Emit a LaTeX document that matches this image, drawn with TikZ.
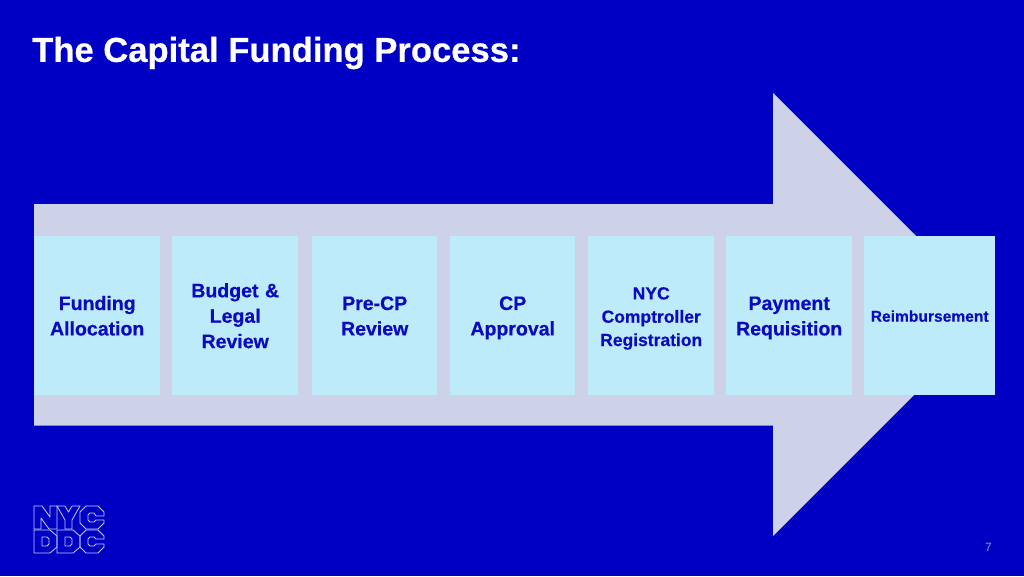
\documentclass[tikz,border=0pt]{standalone}
\usepackage{fontspec}
\setmainfont[BoldFeatures={FakeBold=0.5}]{Liberation Sans}
\definecolor{bgblue}{HTML}{0000C4}
\definecolor{arrowgrey}{HTML}{CDD2E8}
\definecolor{boxblue}{HTML}{BEEBFA}
\definecolor{inkblue}{HTML}{0A0ABE}
\definecolor{logoline}{HTML}{C4CCF4}
\definecolor{pagegrey}{HTML}{8C96DC}
\newcommand{\stepstrut}[2]{\rule[-#2pt]{0pt}{\dimexpr#1pt+#2pt\relax}}
\tikzset{
  stepbox/.style={fill=boxblue,draw=none,inner sep=0pt,anchor=north west,
    minimum height=159pt,text width=#1,minimum width=#1,align=center,
    text=inkblue,font=\fontsize{19.5}{25.4}\selectfont\bfseries,
    execute at begin node=\stepstrut{18}{4},execute at end node=\stepstrut{18}{4}},
  logostroke/.style={draw=logoline,line width=0.8pt,line join=round},
}
\begin{document}
\begin{tikzpicture}[x=1pt,y=-1pt]
\useasboundingbox (0,0) rectangle (1024,576);
\fill[bgblue] (0,0) rectangle (1024,576);
\node[anchor=west,inner sep=0pt,text=white,font=\fontsize{34.6}{38}\selectfont\bfseries] (title) at (32,53) {The Capital Funding Process:};
\fill[arrowgrey] (34,204) -- (773,204) -- (773,93) -- (994.5,314.5) -- (773,536) -- (773,425.5) -- (34,425.5) -- cycle;
\node[stepbox=126pt] (s1) at (34,236) {Funding\\Allocation};
\node[stepbox=126pt] (s2) at (172,236) {Budget \&\\Legal\\Review};
\node[stepbox=125pt] (s3) at (312,236) {Pre-CP\\Review};
\node[stepbox=125pt] (s4) at (450,236) {CP\\Approval};
\node[stepbox=126pt,font=\fontsize{17.5}{23.3}\selectfont\bfseries] (s5) at (588,236) {NYC\\Comptroller\\Registration};
\node[stepbox=126pt] (s6) at (726,236) {Payment\\Requisition};
\node[stepbox=131pt,font=\fontsize{15.6}{18}\selectfont\bfseries,execute at begin node=\stepstrut{11}{6},execute at end node=\stepstrut{11}{6}] (s7) at (864,236) {Reimbursement};
% logo: NYC
\draw[logostroke] (34,506) -- (42,506) -- (50,517) -- (50,506) -- (57,506) -- (57,529) -- (49,529) -- (41,518) -- (41,529) -- (34,529) -- cycle;
\draw[logostroke] (57,506) -- (65,506) -- (68.5,512) -- (72,506) -- (80,506) -- (72,520) -- (72,529) -- (65,529) -- (65,520) -- cycle;
\draw[logostroke] (86,506) -- (98,506) -- (104,512) -- (104,516) -- (96,516) -- (94,513) -- (90,513) -- (88,515) -- (88,520) -- (90,522) -- (94,522) -- (96,520) -- (104,520) -- (104,523) -- (98,529) -- (86,529) -- (80,523) -- (80,512) -- cycle;
% logo: DDC
\draw[logostroke] (34,530) -- (50,530) -- (57,536) -- (57,547) -- (50,553) -- (34,553) -- cycle;
\draw[logostroke] (42,537) -- (47,537) -- (49,539) -- (49,544) -- (47,546) -- (42,546) -- cycle;
\draw[logostroke] (57,530) -- (73,530) -- (80,536) -- (80,547) -- (73,553) -- (57,553) -- cycle;
\draw[logostroke] (65,537) -- (70,537) -- (72,539) -- (72,544) -- (70,546) -- (65,546) -- cycle;
\draw[logostroke] (86,530) -- (98,530) -- (104,536) -- (104,539) -- (96,539) -- (94,537) -- (90,537) -- (88,539) -- (88,544) -- (90,546) -- (94,546) -- (96,544) -- (104,544) -- (104,547) -- (98,553) -- (86,553) -- (80,547) -- (80,536) -- cycle;
\node[inner sep=0pt,text=pagegrey,font=\fontsize{12}{14}\selectfont] (page) at (988.5,547) {7};
\end{tikzpicture}
\end{document}
